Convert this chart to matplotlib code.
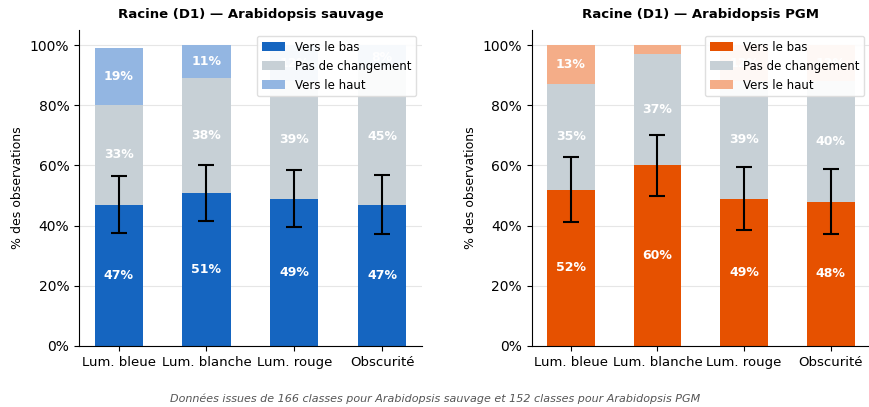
import matplotlib
matplotlib.use("Agg")
import matplotlib.pyplot as plt
import numpy as np

categories = ["Lum. bleue", "Lum. blanche", "Lum. rouge", "Obscurité"]
series_names = ["Vers le bas", "Pas de changement", "Vers le haut"]

wt_down = [47, 51, 49, 47]
wt_none = [33, 38, 39, 45]
wt_up = [19, 11, 12, 8]
wt_err = [9.5, 9.3, 9.5, 9.7]

gm_down = [52, 60, 49, 48]
gm_none = [35, 37, 39, 40]
gm_up = [13, 3, 12, 12]
gm_err = [10.7, 10.0, 10.5, 10.8]

titles = ["Racine (D1) — Arabidopsis sauvage", "Racine (D1) — Arabidopsis PGM"]
footnote = "Données issues de 166 classes pour Arabidopsis sauvage et 152 classes pour Arabidopsis PGM"

fig = plt.figure(figsize=(8.7, 4.07), dpi=100)
axes = [fig.add_axes([0.0908, 0.15, 0.394, 0.776]),
        fig.add_axes([0.611, 0.15, 0.389, 0.776])]

panels = [
    (wt_down, wt_none, wt_up, wt_err, ["#1565C0", "#C7D0D6", "#93B6E2"]),
    (gm_down, gm_none, gm_up, gm_err, ["#E65100", "#C7D0D6", "#F4AD88"]),
]

x = np.arange(len(categories))
w = 0.55
for ax, title, (down, none, up, err, cols) in zip(axes, titles, panels):
    down = np.array(down, float); none = np.array(none, float); up = np.array(up, float)
    ax.set_axisbelow(True)
    ax.grid(axis="y", color="#e6e6e6", linewidth=0.8)
    ax.bar(x, down, w, color=cols[0], label=series_names[0])
    ax.bar(x, none, w, bottom=down, color=cols[1], label=series_names[1])
    ax.bar(x, up, w, bottom=down + none, color=cols[2], label=series_names[2])
    for vals, bottoms in [(down, np.zeros(4)), (none, down), (up, down + none)]:
        for xi, v, b in zip(x, vals, bottoms):
            if v >= 5:
                ax.text(xi, b + v / 2, f"{v:.0f}%", ha="center", va="center",
                        color="white", fontweight="bold", fontsize=9)
    ax.errorbar(x, down, yerr=err, fmt="none", ecolor="black", elinewidth=1.5,
                capsize=6, capthick=1.5, zorder=5)
    ax.set_ylim(0, 105)
    ax.set_yticks([0, 20, 40, 60, 80, 100])
    ax.set_yticklabels([f"{t}%" for t in [0, 20, 40, 60, 80, 100]], fontsize=10)
    ax.set_xticks(x)
    ax.set_xticklabels(categories, fontsize=9.5)
    ax.set_ylabel("% des observations", fontsize=9)
    ax.set_title(title, fontsize=9.5, fontweight="bold", pad=9)
    for s in ["top", "right"]:
        ax.spines[s].set_visible(False)
    leg = ax.legend(loc="upper right", fontsize=8.5, framealpha=0.92, edgecolor="#dddddd")
    leg.set_zorder(10)

fig.text(0.5, 0.02, footnote, ha="center", va="center", fontsize=8,
         style="italic", color="#555555")

fig.savefig("out.png", dpi=100)
